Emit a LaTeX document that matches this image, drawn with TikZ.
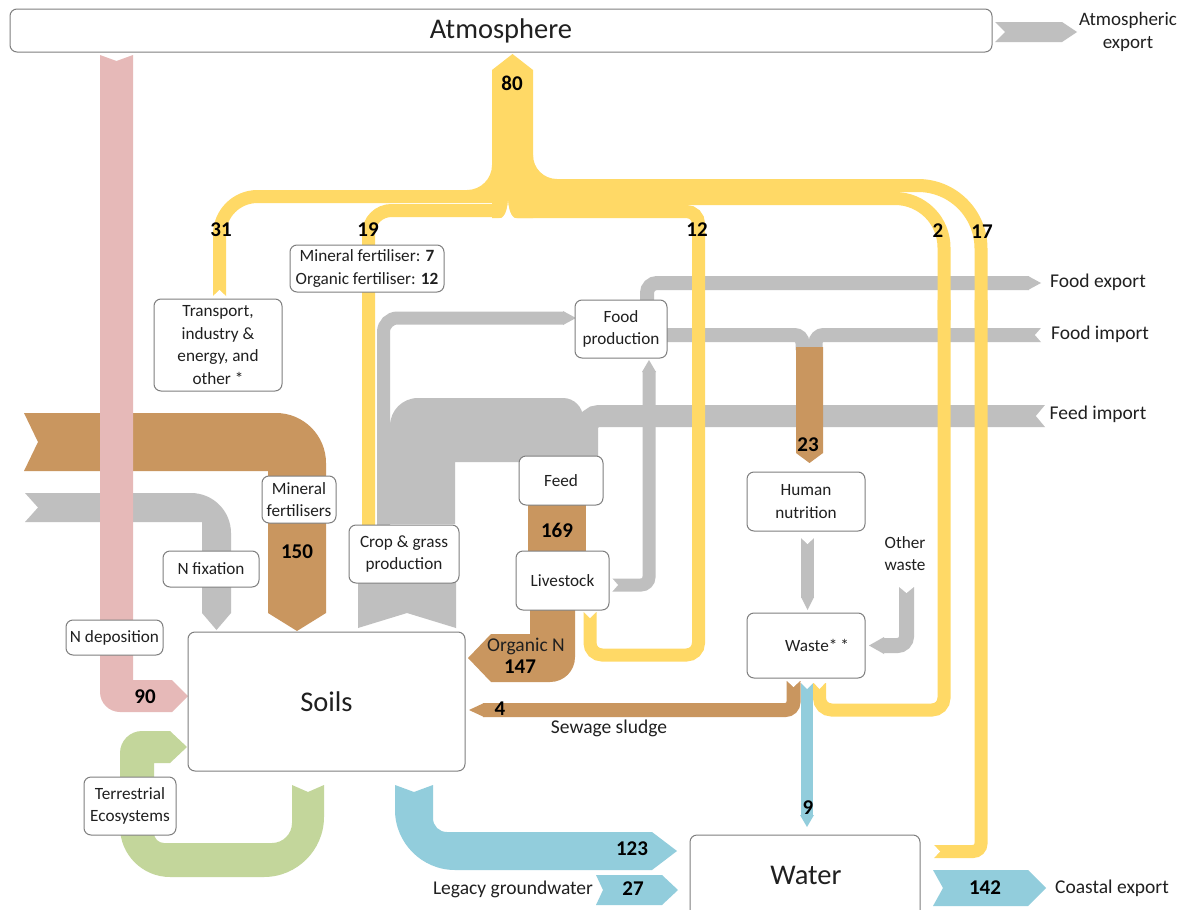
\documentclass[tikz,border=0pt]{standalone}
\usepackage{fontspec}
\setmainfont{Carlito}
\definecolor{yel}{HTML}{FFD966}
\definecolor{pnk}{HTML}{E6B9B8}
\definecolor{brn}{HTML}{C9965F}
\definecolor{gry}{HTML}{BFBFBF}
\definecolor{blu}{HTML}{92CDDC}
\definecolor{grn}{HTML}{C3D69B}
\definecolor{bord}{HTML}{7F7F7F}
\definecolor{txt}{HTML}{202020}
\begin{document}
\begin{tikzpicture}[x=1pt,y=-1pt,
  box/.style={draw=bord, line width=1pt, rounded corners=7pt, fill=white, align=center, text=txt, font=\fontsize{17.2}{22.5}\selectfont, inner sep=1pt},
  lbl/.style={text=txt, font=\fontsize{19.5}{22}\selectfont, align=center, inner sep=0pt},
  sml/.style={text=txt, font=\fontsize{17.2}{22}\selectfont, align=center, inner sep=0pt},
  num/.style={text=black, font=\bfseries\fontsize{21}{22}\selectfont, inner sep=0pt},
  big/.style={font=\fontsize{28.5}{30}\selectfont}]
\useasboundingbox (0,0) rectangle (1184,910);
\fill[white] (0,0) rectangle (1184,910);

% ---------------- GRAY ----------------
\fill[gry] (390,524) -- (390,426) .. controls (390,410.5) and (402.5,398) .. (418,398) -- (563,398) .. controls (574,398) and (583,407) .. (583,418) -- (583,462) -- (455,462) -- (455,524) -- cycle;
\fill[gry] (358,580) -- (456,580) -- (456,628) -- (407,613) -- (358,628) -- cycle;
\draw[gry, line width=13, rounded corners=14] (383.5,526) -- (383.5,318) -- (564,318);
\fill[gry] (563,311) -- (576,318) -- (563,325) -- cycle;
\draw[gry, line width=22, rounded corners=12] (1045,416) -- (587,416) -- (587,462);
\draw[gry, line width=13, rounded corners=8] (612,585) -- (649,585) -- (649,371);
\fill[gry] (642,372) -- (649,360) -- (656,372) -- cycle;
\draw[gry, line width=14, rounded corners=10] (647,302) -- (647,283) -- (1029,283);
\fill[gry] (1028,276) -- (1041,283) -- (1028,290) -- cycle;
\draw[gry, line width=14, rounded corners=8] (665,335) -- (802.5,335) -- (802.5,350);
\draw[gry, line width=14, rounded corners=8] (1041,335) -- (815.5,335) -- (815.5,350);
\draw[gry, line width=13] (807.5,538) -- (807.5,598);
\fill[gry] (801,597) -- (807.5,610) -- (814,597) -- cycle;
\draw[gry, line width=15, rounded corners=9] (906.5,587) -- (906.5,645.5) -- (883,645.5);
\fill[gry] (884,637) -- (869,645.5) -- (884,654) -- cycle;
\fill[gry] (995,22) -- (1062,22) -- (1077,32) -- (1062,42) -- (995,42) -- (1005,32) -- cycle;
\fill[gry] (25,493) -- (191,493) .. controls (213,493) and (231,511) .. (231,533) -- (231,613) -- (216.5,630) -- (202,613) -- (202,522) -- (25,522) -- (38,507.5) -- cycle;

% ---------------- BROWN ----------------
\fill[brn] (24,413) -- (276,413) .. controls (303.6,413) and (326,435.4) .. (326,463) -- (326,613) -- (297,631) -- (268,613) -- (268,471) -- (24,471) -- (38,442) -- cycle;
\fill[brn] (528,500) rectangle (586,556);
\fill[brn] (530,605) -- (575,605) -- (575,657) .. controls (575,671) and (564,682) .. (550,682) -- (491,682) -- (468,658) -- (491,634) -- (530,634) -- cycle;
\draw[brn, line width=14, rounded corners=8] (793.5,681) -- (793.5,710) -- (483,710);
\fill[brn] (484,703) -- (469,710) -- (484,717) -- cycle;
\fill[brn] (796,347) -- (823,347) -- (823,453) -- (809.5,463) -- (796,453) -- cycle;

% ---------------- BLUE ----------------
\fill[blu] (395,785) -- (414,792) -- (433,785) -- (433,818) .. controls (433,826) and (439,832) .. (447,832) -- (652,832) -- (677,851) -- (652,870) -- (455,870) .. controls (422,870) and (395,843) .. (395,810) -- cycle;
\fill[blu] (596,875) -- (662,875) -- (678,890) -- (662,905) -- (596,905) -- (603,890) -- cycle;
\fill[blu] (933,870) -- (1028,870) -- (1046,888) -- (1028,906) -- (933,906) -- (943,888) -- cycle;
\draw[blu, line width=12] (807,683) -- (807,816);
\fill[blu] (800,815) -- (807,827) -- (814,815) -- cycle;

% ---------------- GREEN ----------------
\fill[grn] (292,785) -- (308,792) -- (324,785) -- (324,817) .. controls (324,850) and (297,877) .. (264,877) -- (170,877) .. controls (142.4,877) and (120,854.6) .. (120,827) -- (120,753) .. controls (120,740.9) and (129.9,731) .. (142,731) -- (170,731) -- (187,747) -- (170,763) -- (154,763) -- (154,833) .. controls (154,838.5) and (158.5,843) .. (164,843) -- (272,843) .. controls (283,843) and (292,834) .. (292,823) -- cycle;

% ---------------- YELLOW ----------------
\fill[yel] (492,70) -- (512.5,54) -- (533,70) -- (533,218) -- (492,218) -- cycle;
\fill[yel] (492,165) .. controls (492,178.8) and (480.8,190) .. (467,190) -- (492,190) -- cycle;
\fill[yel] (533,155) .. controls (533,168.3) and (543.7,179) .. (557,179) -- (533,179) -- cycle;
\draw[yel, line width=13, rounded corners=38] (511,196.5) -- (219.5,196.5) -- (219.5,297);
\draw[yel, line width=13, rounded corners=23] (511,210.5) -- (368.5,210.5) -- (368.5,526);
\draw[yel, line width=13, rounded corners=12] (511,211.5) -- (698.5,211.5) -- (698.5,655) -- (590,655) -- (590,612);
\draw[yel, line width=13, rounded corners=49] (511,198.5) -- (944,198.5) -- (944,320);
\draw[yel, line width=13, rounded corners=12] (944,300) -- (944,710) -- (819.5,710) -- (819.5,683);
\draw[yel, line width=13, rounded corners=63] (511,185.5) -- (981,185.5) -- (981,320);
\draw[yel, line width=13, rounded corners=8] (981,300) -- (981,851.5) -- (934,851.5);

% ---------------- PINK ----------------
\fill[pnk] (100,55) -- (116.5,61) -- (133,55) -- (133,680) -- (172,680) -- (188,696) -- (172,712) -- (120,712) .. controls (109,712) and (100,703) .. (100,692) -- cycle;

% ---------------- tail notches ----------------
\fill[white] (211,298) -- (219.5,290) -- (228,298) -- cycle;
\fill[white] (583,611) -- (590,618) -- (597,611) -- cycle;
\fill[white] (813,682) -- (819.5,689) -- (826,682) -- cycle;
\fill[white] (933,844) -- (940,851.5) -- (933,859) -- cycle;
\fill[white] (498,219) .. controls (504,219) and (507,212) .. (508,201) .. controls (509,212) and (512,219) .. (518,219) -- cycle;
\fill[white] (800,682) -- (807,689) -- (814,682) -- cycle;
\fill[white] (786,680) -- (793.5,687) -- (801,680) -- cycle;
\fill[white] (800,537) -- (807.5,544) -- (815,537) -- cycle;
\fill[white] (898,586) -- (906.5,593) -- (915,586) -- cycle;
\fill[white] (611,577) -- (618,585) -- (611,593) -- cycle;
\fill[white] (1042,327) -- (1035,335) -- (1042,343) -- cycle;
\fill[white] (1046,404) -- (1036,416) -- (1046,428) -- cycle;

% ---------------- BOXES ----------------
\node[box, big, minimum width=982pt, minimum height=43pt] (atm) at (501,30.5) {Atmosphere};
\node[box, minimum width=128pt, minimum height=92pt] (transport) at (218,345) {Transport,\\industry \&\\energy, and\\other~*};
\node[box, minimum width=154pt, minimum height=47pt] (fertsplit) at (367,268.5) {Mineral fertiliser: \textbf{7}\\Organic fertiliser: \textbf{12}};
\node[box, minimum width=92pt, minimum height=58pt] (foodprod) at (621,329) {Food\\production};
\node[box, minimum width=84pt, minimum height=49pt] (feed) at (561,480.5) {Feed};
\node[box, minimum width=93pt, minimum height=59pt] (livestock) at (562.5,580.5) {Livestock};
\node[box, minimum width=110pt, minimum height=58pt] (crop) at (404,554) {Crop \& grass\\production};
\node[box, minimum width=74pt, minimum height=47pt] (minfert) at (299,499.5) {Mineral\\fertilisers};
\node[box, minimum width=96pt, minimum height=36pt] (nfix) at (211,569) {N fixation};
\node[box, minimum width=97pt, minimum height=35pt] (ndep) at (114.5,637.5) {N deposition};
\node[box, minimum width=118pt, minimum height=59pt] (human) at (806,501.5) {Human\\nutrition};
\node[box, minimum width=118pt, minimum height=65pt] (waste) at (806,645.5) {};
\node[sml] (wastetxt) at (817,645) {Waste*\,*};
\node[box, big, minimum width=277pt, minimum height=139pt] (soils) at (326.5,701.5) {Soils};
\node[box, minimum width=230pt, minimum height=100pt] (water) at (805,885) {};
\node[big, text=txt, inner sep=0pt] (watertxt) at (806,875) {Water};
\node[box, minimum width=92pt, minimum height=58pt] (terr) at (130,806) {Terrestrial\\Ecosystems};

% ---------------- LABELS ----------------
\node[text=txt, font=\fontsize{19}{23}\selectfont, align=center, inner sep=0pt] (atmexp) at (1128,32) {Atmospheric\\export};
\node[lbl] (foodexp) at (1098,282) {Food export};
\node[lbl] (foodimp) at (1100,334) {Food import};
\node[lbl] (feedimp) at (1098,414) {Feed import};
\node[sml] (otherw) at (905,554) {Other\\waste};
\node[lbl] (sewage) at (609,728) {Sewage sludge};
\node[lbl] (legacy) at (513,889) {Legacy groundwater};
\node[lbl] (coastal) at (1112,888) {Coastal export};
\node[lbl] (orgn) at (526,646) {Organic N};

\node[num] (n80) at (512,83) {80};
\node[num] (n31) at (221,230) {31};
\node[num] (n19) at (368,230) {19};
\node[num] (n12) at (697,230) {12};
\node[num] (n2) at (938,231) {2};
\node[num] (n17) at (982,232) {17};
\node[num] (n150) at (297,552) {150};
\node[num] (n169) at (557,530) {169};
\node[num] (n23) at (808,445) {23};
\node[num] (n90) at (145,697) {90};
\node[num] (n147) at (520,667) {147};
\node[num] (n4) at (500,709) {4};
\node[num] (n9) at (808,808) {9};
\node[num] (n123) at (632,849) {123};
\node[num] (n27) at (633,889) {27};
\node[num] (n142) at (985,888) {142};
\end{tikzpicture}
\end{document}
